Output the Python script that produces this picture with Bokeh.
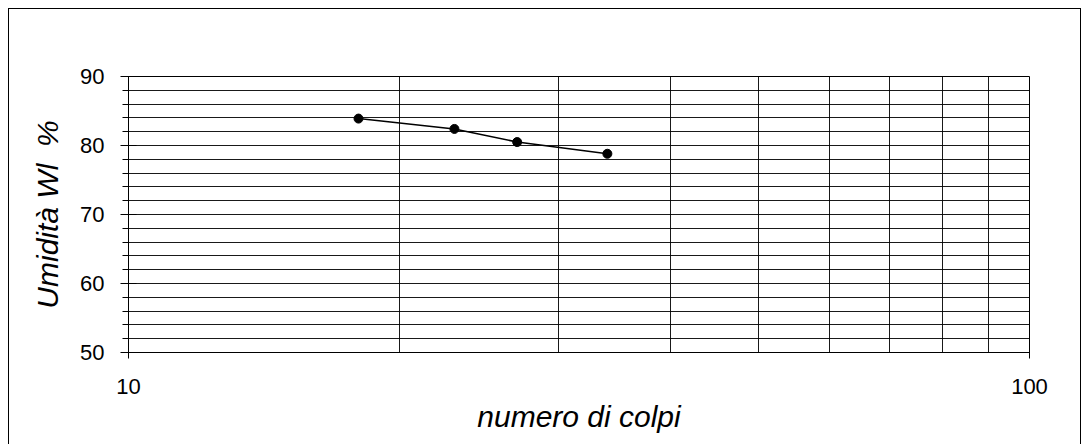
from bokeh.plotting import figure
from bokeh.models import FixedTicker, PrintfTickFormatter, ColumnDataSource
from bokeh.embed import file_html
from bokeh.resources import INLINE

# data
colpi = [18, 23, 27, 34]
umidita = [83.9, 82.4, 80.5, 78.8]

x_major = [10, 100]
x_grid = [20, 30, 40, 50, 60, 70, 80, 90]
y_major = [50, 60, 70, 80, 90]
y_minor = list(range(50, 91, 2))
y_grid = list(range(52, 89, 2))

src = ColumnDataSource(dict(x=colpi, y=umidita))

p = figure(width=1073, height=436, x_axis_type="log", x_range=(10, 100), y_range=(50, 90),
           output_backend="svg", toolbar_location=None,
           min_border_left=119, min_border_right=53, min_border_top=67, min_border_bottom=93)
p.styles = {"margin-left": "8px", "margin-top": "8px",
            "border-left": "1px solid black", "border-top": "1px solid black",
            "border-right": "1px solid black"}
p.background_fill_color = "white"
p.border_fill_color = "white"
p.outline_line_color = "black"
p.outline_line_width = 1

p.line("x", "y", source=src, line_color="black", line_width=1.5)
p.scatter("x", "y", source=src, size=9, color="black")

FONT = "Liberation Sans"

xa = p.xaxis[0]
xa.ticker = FixedTicker(ticks=x_major, minor_ticks=[])
xa.formatter = PrintfTickFormatter(format="%d")
xa.axis_line_color = "black"
xa.major_tick_line_color = "black"
xa.major_tick_in = 8
xa.major_tick_out = 6
xa.minor_tick_line_color = None
xa.major_label_text_font = FONT
xa.major_label_text_font_size = "22px"
xa.major_label_text_color = "black"
xa.major_label_standoff = 20
xa.axis_label = "numero di colpi"
xa.axis_label_text_font = FONT
xa.axis_label_text_font_style = "italic"
xa.axis_label_text_font_size = "30px"
xa.axis_label_text_color = "black"
xa.axis_label_standoff = 3

ya = p.yaxis[0]
ya.ticker = FixedTicker(ticks=y_major, minor_ticks=y_minor)
ya.axis_line_color = "black"
ya.major_tick_line_color = "black"
ya.major_tick_in = 8
ya.major_tick_out = 8
ya.minor_tick_line_color = "black"
ya.minor_tick_in = 0
ya.minor_tick_out = 6
ya.major_label_text_font = FONT
ya.major_label_text_font_size = "22px"
ya.major_label_text_color = "black"
ya.major_label_standoff = 16
ya.axis_label = "Umidità Wl\u00a0\u00a0%"
ya.axis_label_text_font = FONT
ya.axis_label_text_font_style = "italic"
ya.axis_label_text_font_size = "30px"
ya.axis_label_text_color = "black"
ya.axis_label_standoff = 13

p.xgrid.ticker = FixedTicker(ticks=x_grid)
p.ygrid.ticker = FixedTicker(ticks=y_grid)
for g in (p.xgrid, p.ygrid):
    g.grid_line_color = "black"
    g.grid_line_width = 1
    g.grid_line_alpha = 0.9

open("out.html", "w").write(file_html(p, INLINE))
